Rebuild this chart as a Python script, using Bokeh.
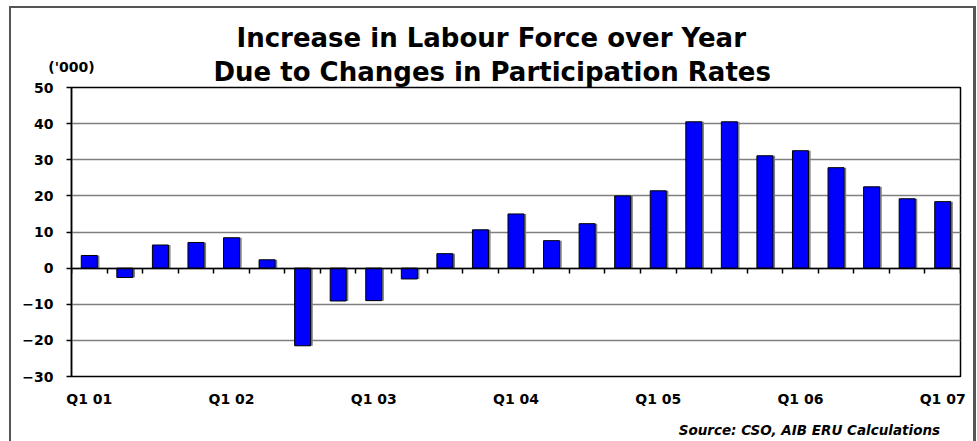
from bokeh.plotting import figure
from bokeh.models import (Range1d, LinearAxis, FixedTicker, Title, ColumnDataSource)
from bokeh.transform import dodge
from bokeh.embed import file_html
from bokeh.resources import INLINE

# ---- data ----
quarters = ["Q1 01", "Q2 01", "Q3 01", "Q4 01",
            "Q1 02", "Q2 02", "Q3 02", "Q4 02",
            "Q1 03", "Q2 03", "Q3 03", "Q4 03",
            "Q1 04", "Q2 04", "Q3 04", "Q4 04",
            "Q1 05", "Q2 05", "Q3 05", "Q4 05",
            "Q1 06", "Q2 06", "Q3 06", "Q4 06",
            "Q1 07"]
values = [3.5, -2.6, 6.4, 7.1, 8.4, 2.3, -21.5, -9.1, -9.0, -3.0,
          4.0, 10.6, 15.0, 7.6, 12.3, 20.0, 21.4, 40.5, 40.5, 31.1,
          32.5, 27.8, 22.5, 19.2, 18.4]
x_tick_labels = ["Q1 01", "Q1 02", "Q1 03", "Q1 04", "Q1 05", "Q1 06", "Q1 07"]
y_ticks = [-30, -20, -10, 0, 10, 20, 30, 40, 50]

title_1 = "Increase in Labour Force over Year"
title_2 = "Due to Changes in Participation Rates"
units_label = "('000)"
source_note = "Source: CSO, AIB ERU Calculations"

FONT = "DejaVu Sans"

n = len(quarters)
xs = [i + 0.5 for i in range(n)]
src = ColumnDataSource(dict(x=xs, top=values, q=quarters))

frame_line = "linear-gradient(#555555, #555555)"
p = figure(width=977, height=441, output_backend="svg", toolbar_location=None,
           x_range=Range1d(0, n), y_range=Range1d(y_ticks[0], y_ticks[-1]),
           min_border_left=71, min_border_right=17, min_border_top=87,
           min_border_bottom=65)
p.background_fill_color = "white"
p.border_fill_alpha = 0
p.styles = {
    "background": (f"{frame_line} 9px 6px / 2px 480px no-repeat, "
                   f"{frame_line} 9px 6px / 966px 2px no-repeat, "
                   f"{frame_line} 973px 6px / 3px 480px no-repeat, white"),
}
p.outline_line_color = "black"
p.outline_line_width = 1.5

# keep handles on the default axes before adding extra ones
xa = p.below[0]
ya = p.left[0]

# bottom axis (labels only)
label_pos = [xs[quarters.index(t)] for t in x_tick_labels]
xa.ticker = FixedTicker(ticks=label_pos)
xa.major_label_overrides = {pos: t for pos, t in zip(label_pos, x_tick_labels)}
xa.major_label_text_font = FONT
xa.major_label_text_font_style = "bold"
xa.major_label_text_font_size = "14px"
xa.major_label_text_color = "black"
xa.axis_line_color = None
xa.major_tick_out = 0
xa.major_tick_in = 0
xa.major_tick_line_color = None
xa.minor_tick_line_color = None
xa.major_label_standoff = 14

# y axis
ya.ticker = FixedTicker(ticks=y_ticks)
ya.major_label_text_font = FONT
ya.major_label_text_font_style = "bold"
ya.major_label_text_font_size = "14px"
ya.major_label_text_color = "black"
ya.major_tick_out = 5
ya.major_tick_in = 0
ya.minor_tick_out = 0
ya.minor_tick_in = 0
ya.axis_line_color = "black"
ya.axis_line_width = 1.5
ya.major_tick_line_width = 1.5
ya.major_label_standoff = 13

# grid
p.xgrid.visible = False
p.ygrid.ticker = FixedTicker(ticks=y_ticks)
p.ygrid.grid_line_color = "#808080"
p.ygrid.grid_line_width = 1.5

# titles (stacked above the frame)
p.title = Title(text=title_1, align="left", offset=165, standoff=2,
                text_font=FONT, text_font_style="bold", text_font_size="26px",
                text_color="black")
p.add_layout(Title(text=title_2, align="left", offset=142, standoff=2,
                   text_font=FONT, text_font_style="bold", text_font_size="26px",
                   text_color="black"), "above")

# units label: one-tick axis in the top panel, pulled down beside the 2nd title line
ua = LinearAxis(ticker=FixedTicker(ticks=[0]),
                major_label_overrides={0: units_label})
ua.major_label_text_font = FONT
ua.major_label_text_font_style = "bold"
ua.major_label_text_font_size = "14px"
ua.major_label_text_color = "black"
ua.axis_line_color = None
ua.major_tick_line_color = None
ua.minor_tick_line_color = None
ua.major_tick_out = 0
ua.major_tick_in = 0
ua.major_label_standoff = -21
p.add_layout(ua, "above")

# zero axis with category-boundary ticks
za = LinearAxis(fixed_location=0, ticker=FixedTicker(ticks=list(range(n + 1))))
za.major_label_text_font_size = "0px"
za.major_label_text_alpha = 0
za.major_label_standoff = 0
za.major_tick_out = 5
za.major_tick_in = 0
za.minor_tick_line_color = None
za.axis_line_color = "black"
za.axis_line_width = 1.5
za.major_tick_line_width = 1.5
p.add_layout(za, "below")

# source note: one-tick axis below the category labels
sa = LinearAxis(bounds=(20.5, 21.0), ticker=FixedTicker(ticks=[20.75]),
                major_label_overrides={20.75: source_note})
sa.major_label_text_font = FONT
sa.major_label_text_font_style = "bold italic"
sa.major_label_text_font_size = "13.5px"
sa.major_label_text_color = "black"
sa.axis_line_color = None
sa.major_tick_line_color = None
sa.minor_tick_line_color = None
sa.major_tick_out = 0
sa.major_tick_in = 0
sa.major_label_standoff = 12
p.add_layout(sa, "below")

# bars with shadow
p.vbar(x=dodge("x", 0.06, range=p.x_range), top="top", bottom=0, width=0.45,
       fill_color="#7f7f7f", line_color=None, source=src)
p.vbar(x="x", top="top", bottom=0, width=0.45, fill_color="#0000FF",
       line_color="black", line_width=1, source=src)

open("out.html", "w").write(file_html(p, INLINE))
